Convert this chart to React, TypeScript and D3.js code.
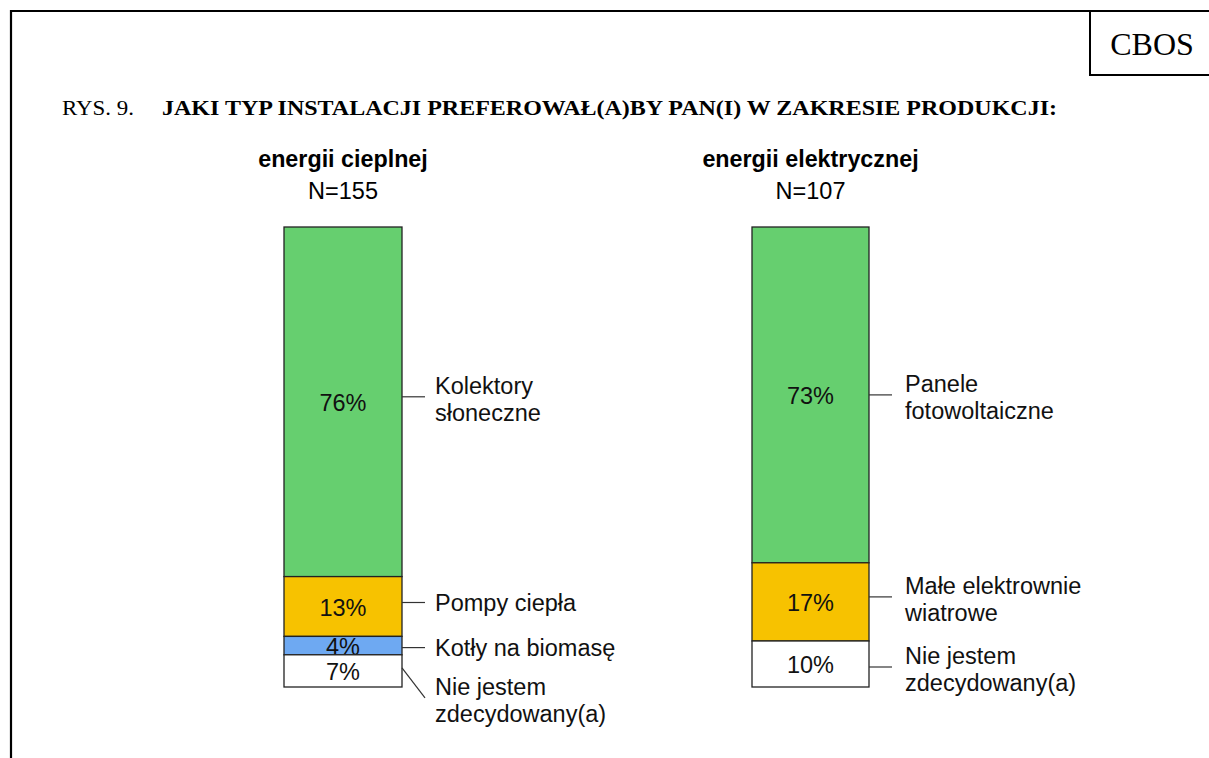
import * as d3 from "d3";
import React from "react";

// data
const charts = ["energii cieplnej", "energii elektrycznej"];
const sampleSizes = ["N=155", "N=107"];
const heatLabels = [["Kolektory", "słoneczne"], ["Pompy ciepła"], ["Kotły na biomasę"], ["Nie jestem", "zdecydowany(a)"]];
const heatValues = [76, 13, 4, 7];
const powerLabels = [["Panele", "fotowoltaiczne"], ["Małe elektrownie", "wiatrowe"], ["Nie jestem", "zdecydowany(a)"]];
const powerValues = [73, 17, 10];

const heatColors = ["#66cf6f", "#f7c200", "#6ea9f2", "#ffffff"];
const powerColors = ["#66cf6f", "#f7c200", "#ffffff"];

const W = 1209, H = 758;
const sans = "'Liberation Sans', Arial, sans-serif";
const serif = "'Liberation Serif', 'Times New Roman', serif";

// stacked from the top down
const y = d3.scaleLinear().domain([0, 100]).range([227, 687]);

const StackedBar: React.FC<{
  x: number;
  width: number;
  title: string;
  n: string;
  values: number[];
  labels: string[][];
  colors: string[];
  leaderLen: number;
  labelGap: number;
  leads: number[][];
}> = (p) => {
  const stack = d3.cumsum(p.values);
  const cx = p.x + p.width / 2;
  const x1 = p.x + p.width;
  const lx = x1 + p.leaderLen + p.labelGap;
  return (
    <g>
      <text x={cx} y={167} textAnchor="middle" fontFamily={sans} fontWeight="bold" fontSize={23.3}>
        {p.title}
      </text>
      <text x={cx} y={199} textAnchor="middle" fontFamily={sans} fontSize={23.5}>
        {p.n}
      </text>
      {p.values.map((v, i) => {
        const top = y(stack[i] - v);
        const bottom = y(stack[i]);
        const mid = (top + bottom) / 2;
        const [s, e] = p.leads[i];
        const yEnd = mid + e;
        const lines = p.labels[i];
        const b1 = lines.length > 1 ? yEnd - 3 : yEnd + 8;
        return (
          <g key={i}>
            <rect x={p.x} y={top} width={p.width} height={bottom - top} fill={p.colors[i]} stroke="#222" strokeWidth={1.3} />
            <text x={cx} y={mid + 9} textAnchor="middle" fontFamily={sans} fontSize={23.5} fill="#111">
              {`${v}%`}
            </text>
            <line x1={x1} y1={mid + s} x2={x1 + p.leaderLen} y2={yEnd} stroke="#333" strokeWidth={1.2} />
            <text x={lx} y={b1} fontFamily={sans} fontSize={23.5} fill="#111">
              {lines.map((l, j) => (
                <tspan key={j} x={lx} y={b1 + j * 27}>
                  {l}
                </tspan>
              ))}
            </text>
          </g>
        );
      })}
    </g>
  );
};

export default function App() {
  return (
    <svg width={W} height={H} style={{ position: "absolute", left: 0, top: 0, background: "#fff" }}>
      <path d={`M11,${H} V11 H${W}`} fill="none" stroke="#000" strokeWidth={2.2} />
      <path d={`M1090,11 V75 H${W}`} fill="none" stroke="#000" strokeWidth={2} />
      <text x={1152} y={55} textAnchor="middle" fontFamily={serif} fontSize={32}>CBOS</text>
      <text x={62} y={115} fontFamily={serif} fontSize={21} textLength={72} lengthAdjust="spacingAndGlyphs">RYS. 9.</text>
      <text x={162} y={115} fontFamily={serif} fontSize={21} fontWeight="bold" textLength={895} lengthAdjust="spacingAndGlyphs">
        JAKI TYP INSTALACJI PREFEROWAŁ(A)BY PAN(I) W ZAKRESIE PRODUKCJI:
      </text>
      <StackedBar
        x={284}
        width={118}
        title={charts[0]}
        n={sampleSizes[0]}
        values={heatValues}
        labels={heatLabels}
        colors={heatColors}
        leaderLen={23}
        labelGap={10}
        leads={[[-5, -5], [-4, -4], [2, 2], [-3, 27]]}
      />
      <StackedBar
        x={752}
        width={117}
        title={charts[1]}
        n={sampleSizes[1]}
        values={powerValues}
        labels={powerLabels}
        colors={powerColors}
        leaderLen={23}
        labelGap={13}
        leads={[[0, 0], [-5, -5], [3, 3]]}
      />
    </svg>
  );
}
